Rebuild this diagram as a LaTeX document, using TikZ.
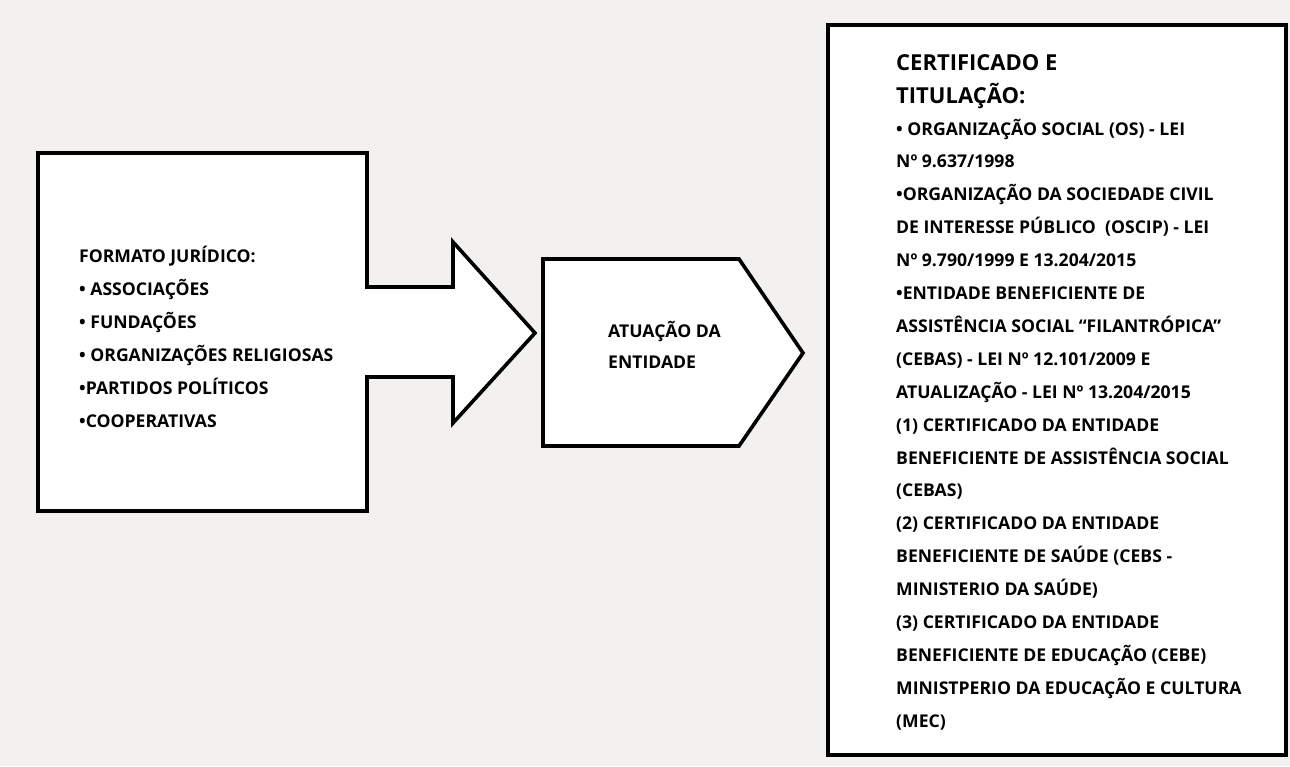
\documentclass[tikz,border=0pt]{standalone}
\usepackage{fontspec}
\setmainfont{Open Sans}
\definecolor{paper}{HTML}{F2F1EF}
\begin{document}
\begin{tikzpicture}[x=1pt,y=-1pt,
  shapeline/.style={draw=black, line width=3.6pt, fill=white, line join=miter},
  txt/.style={anchor=base west, inner sep=0pt, font=\bfseries\fontsize{17.6}{20}\selectfont},
  ttl/.style={anchor=base west, inner sep=0pt, font=\bfseries\fontsize{22}{24}\selectfont}]
% page background
\fill[paper] (0,0) rectangle (1290,766);
\useasboundingbox (0,0) rectangle (1290,766);

% box with arrow: legal form
\draw[shapeline] (38,153) -- (367,153) -- (367,287) -- (453,287) -- (453,242)
  -- (535,333) -- (453,423) -- (453,377) -- (367,377) -- (367,511) -- (38,511) -- cycle;

% pentagon: activity of the entity
\draw[shapeline] (543,259) -- (739,259) -- (803,353) -- (739,446) -- (543,446) -- cycle;

% certificates box
\draw[shapeline] (828,25) rectangle (1286,755);

% legal form text
\foreach \t [count=\i from 0] in {FORMATO JURÍDICO:, • ASSOCIAÇÕES, • FUNDAÇÕES,
  • ORGANIZAÇÕES RELIGIOSAS, •PARTIDOS POLÍTICOS, •COOPERATIVAS}
  \node[txt] (form\i) at (79,262+33*\i) {\t};

% activity text
\node[txt] (act1) at (608,337) {ATUAÇÃO DA};
\node[txt] (act2) at (608,368) {ENTIDADE};

% certificates text
\node[ttl] (cert1) at (896,70) {CERTIFICADO E};
\node[ttl] (cert2) at (896,103) {TITULAÇÃO:};
\foreach \t [count=\i from 0] in {
  • ORGANIZAÇÃO SOCIAL (OS) - LEI,
  Nº 9.637/1998,
  •ORGANIZAÇÃO DA SOCIEDADE CIVIL,
  DE INTERESSE PÚBLICO \ (OSCIP) - LEI,
  Nº 9.790/1999 E 13.204/2015,
  •ENTIDADE BENEFICIENTE DE,
  ASSISTÊNCIA SOCIAL “FILANTRÓPICA”,
  (CEBAS) - LEI Nº 12.101/2009 E,
  ATUALIZAÇÃO - LEI Nº 13.204/2015,
  (1) CERTIFICADO DA ENTIDADE,
  BENEFICIENTE DE ASSISTÊNCIA SOCIAL,
  (CEBAS),
  (2) CERTIFICADO DA ENTIDADE,
  BENEFICIENTE DE SAÚDE (CEBS -,
  MINISTERIO DA SAÚDE),
  (3) CERTIFICADO DA ENTIDADE,
  BENEFICIENTE DE EDUCAÇÃO (CEBE),
  MINISTPERIO DA EDUCAÇÃO E CULTURA,
  (MEC)}
  \node[txt] (line\i) at (896,135+32.9*\i) {\t};
\end{tikzpicture}
\end{document}
